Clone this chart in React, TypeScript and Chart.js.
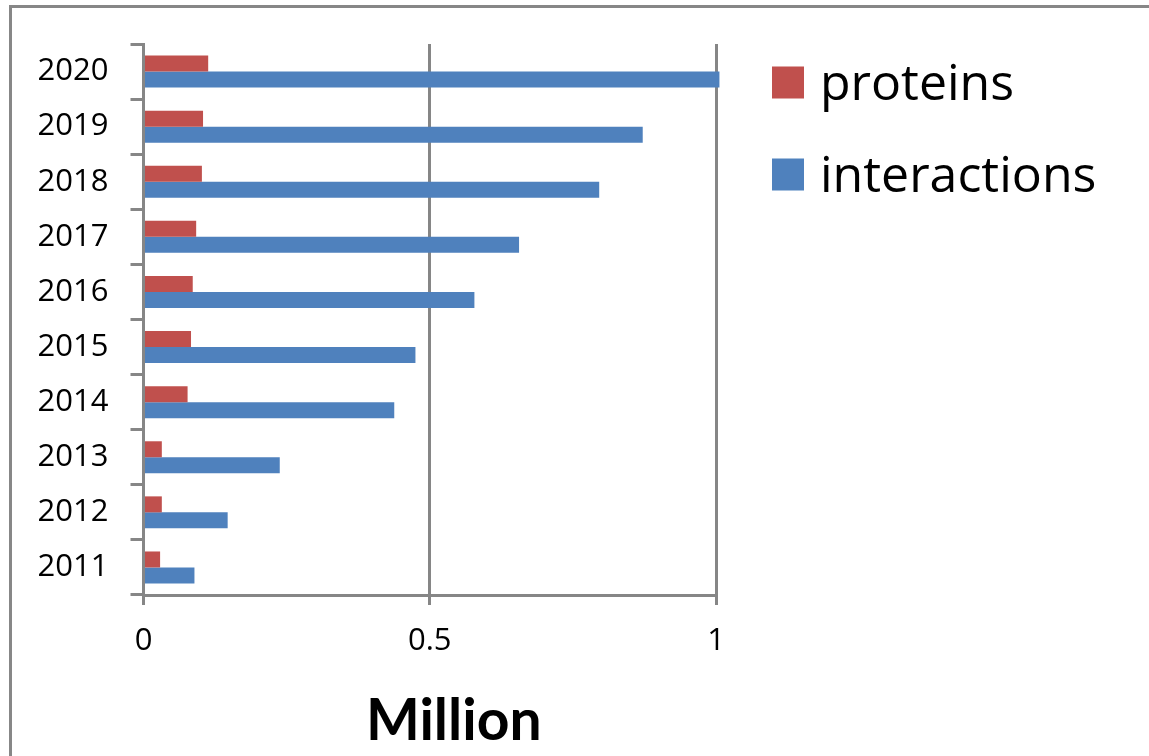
import React, { useEffect, useRef } from "react";
import { Chart, registerables } from "chart.js";

Chart.register(...registerables);

const years = ["2020", "2019", "2018", "2017", "2016", "2015", "2014", "2013", "2012", "2011"];
const proteins = [0.113, 0.104, 0.102, 0.092, 0.086, 0.083, 0.077, 0.032, 0.032, 0.029];
const interactions = [1.006, 0.872, 0.796, 0.656, 0.578, 0.475, 0.438, 0.238, 0.147, 0.089];
const xTicks = [0, 0.5, 1];
const seriesNames = ["proteins", "interactions"];
const seriesColors = ["#C0504D", "#4F81BD"];
const axisTitle = "Million";

const GRAY = "#868686";

const sideLegend = {
  id: "sideLegend",
  afterDraw(chart: any) {
    const { ctx, chartArea } = chart;
    ctx.save();
    chart.data.datasets.forEach((ds: any, i: number) => {
      const bx = chartArea.right + 56;
      const by = chartArea.top + 22.5 + i * 92;
      ctx.fillStyle = ds.backgroundColor;
      ctx.fillRect(bx, by, 32, 32);
      ctx.fillStyle = "#000";
      ctx.font = "50px 'Open Sans'";
      ctx.textBaseline = "alphabetic";
      ctx.textAlign = "left";
      ctx.fillText(ds.label, chartArea.right + 104, by + 33);
    });
    ctx.restore();
  },
};

const bottomTitle = {
  id: "bottomTitle",
  afterDraw(chart: any) {
    const { ctx, chartArea } = chart;
    ctx.save();
    ctx.fillStyle = "#000";
    ctx.font = "bold 57px Lato";
    ctx.textAlign = "center";
    ctx.textBaseline = "alphabetic";
    ctx.fillText(axisTitle, (chartArea.left + chartArea.right) / 2 + 24, chartArea.bottom + 145);
    ctx.restore();
  },
};

export default function App() {
  const ref = useRef<HTMLCanvasElement | null>(null);

  useEffect(() => {
    if (!ref.current) return;
    const chart = new Chart(ref.current, {
      type: "bar",
      data: {
        labels: years,
        datasets: [
          {
            label: seriesNames[0],
            data: proteins,
            backgroundColor: seriesColors[0],
            clip: false as any,
          },
          {
            label: seriesNames[1],
            data: interactions,
            backgroundColor: seriesColors[1],
            clip: false as any,
          },
        ],
      },
      options: {
        indexAxis: "y",
        responsive: false,
        animation: false,
        devicePixelRatio: 1,
        datasets: {
          bar: {
            barPercentage: 1,
            categoryPercentage: 0.58,
          },
        },
        layout: {
          padding: { left: 0, top: 36, right: 433, bottom: 0 },
        },
        plugins: {
          legend: { display: false },
          tooltip: { enabled: false },
          title: { display: false },
        },
        scales: {
          x: {
            type: "linear",
            min: 0,
            max: 1,
            afterFit: (s: any) => {
              s.height = 161;
              s.paddingLeft = 0;
              s.paddingRight = 0;
            },
            afterBuildTicks: (s: any) => {
              s.ticks = xTicks.map((v) => ({ value: v }));
            },
            ticks: {
              color: "#000",
              font: { family: "'Open Sans'", size: 31 },
              padding: 18,
              maxRotation: 0,
              callback: (v: any) => String(v),
            },
            grid: {
              color: GRAY,
              lineWidth: 3,
              drawOnChartArea: true,
              drawTicks: true,
              tickLength: 10,
              tickColor: GRAY,
              tickWidth: 3,
            },
            border: { display: true, color: GRAY, width: 3 },
          },
          y: {
            type: "category",
            afterFit: (s: any) => {
              s.width = 131.5;
              s.paddingTop = 0;
              s.paddingBottom = 0;
            },
            ticks: {
              color: "#000",
              font: { family: "'Open Sans'", size: 31 },
              padding: 22,
            },
            grid: {
              offset: true,
              drawOnChartArea: false,
              drawTicks: true,
              tickLength: 13,
              tickColor: GRAY,
              tickWidth: 3,
              color: GRAY,
            },
            border: { display: true, color: GRAY, width: 3 },
          },
        },
      },
      plugins: [sideLegend, bottomTitle],
    });
    return () => chart.destroy();
  }, []);

  return (
    <div
      style={{
        position: "fixed",
        left: 9,
        top: 5,
        right: 0,
        bottom: 0,
        borderTop: "3px solid #878787",
        borderLeft: "3px solid #878787",
        background: "#fff",
      }}
    >
      <canvas ref={ref} width={1137} height={748} style={{ display: "block", width: 1137, height: 748 }} />
    </div>
  );
}
